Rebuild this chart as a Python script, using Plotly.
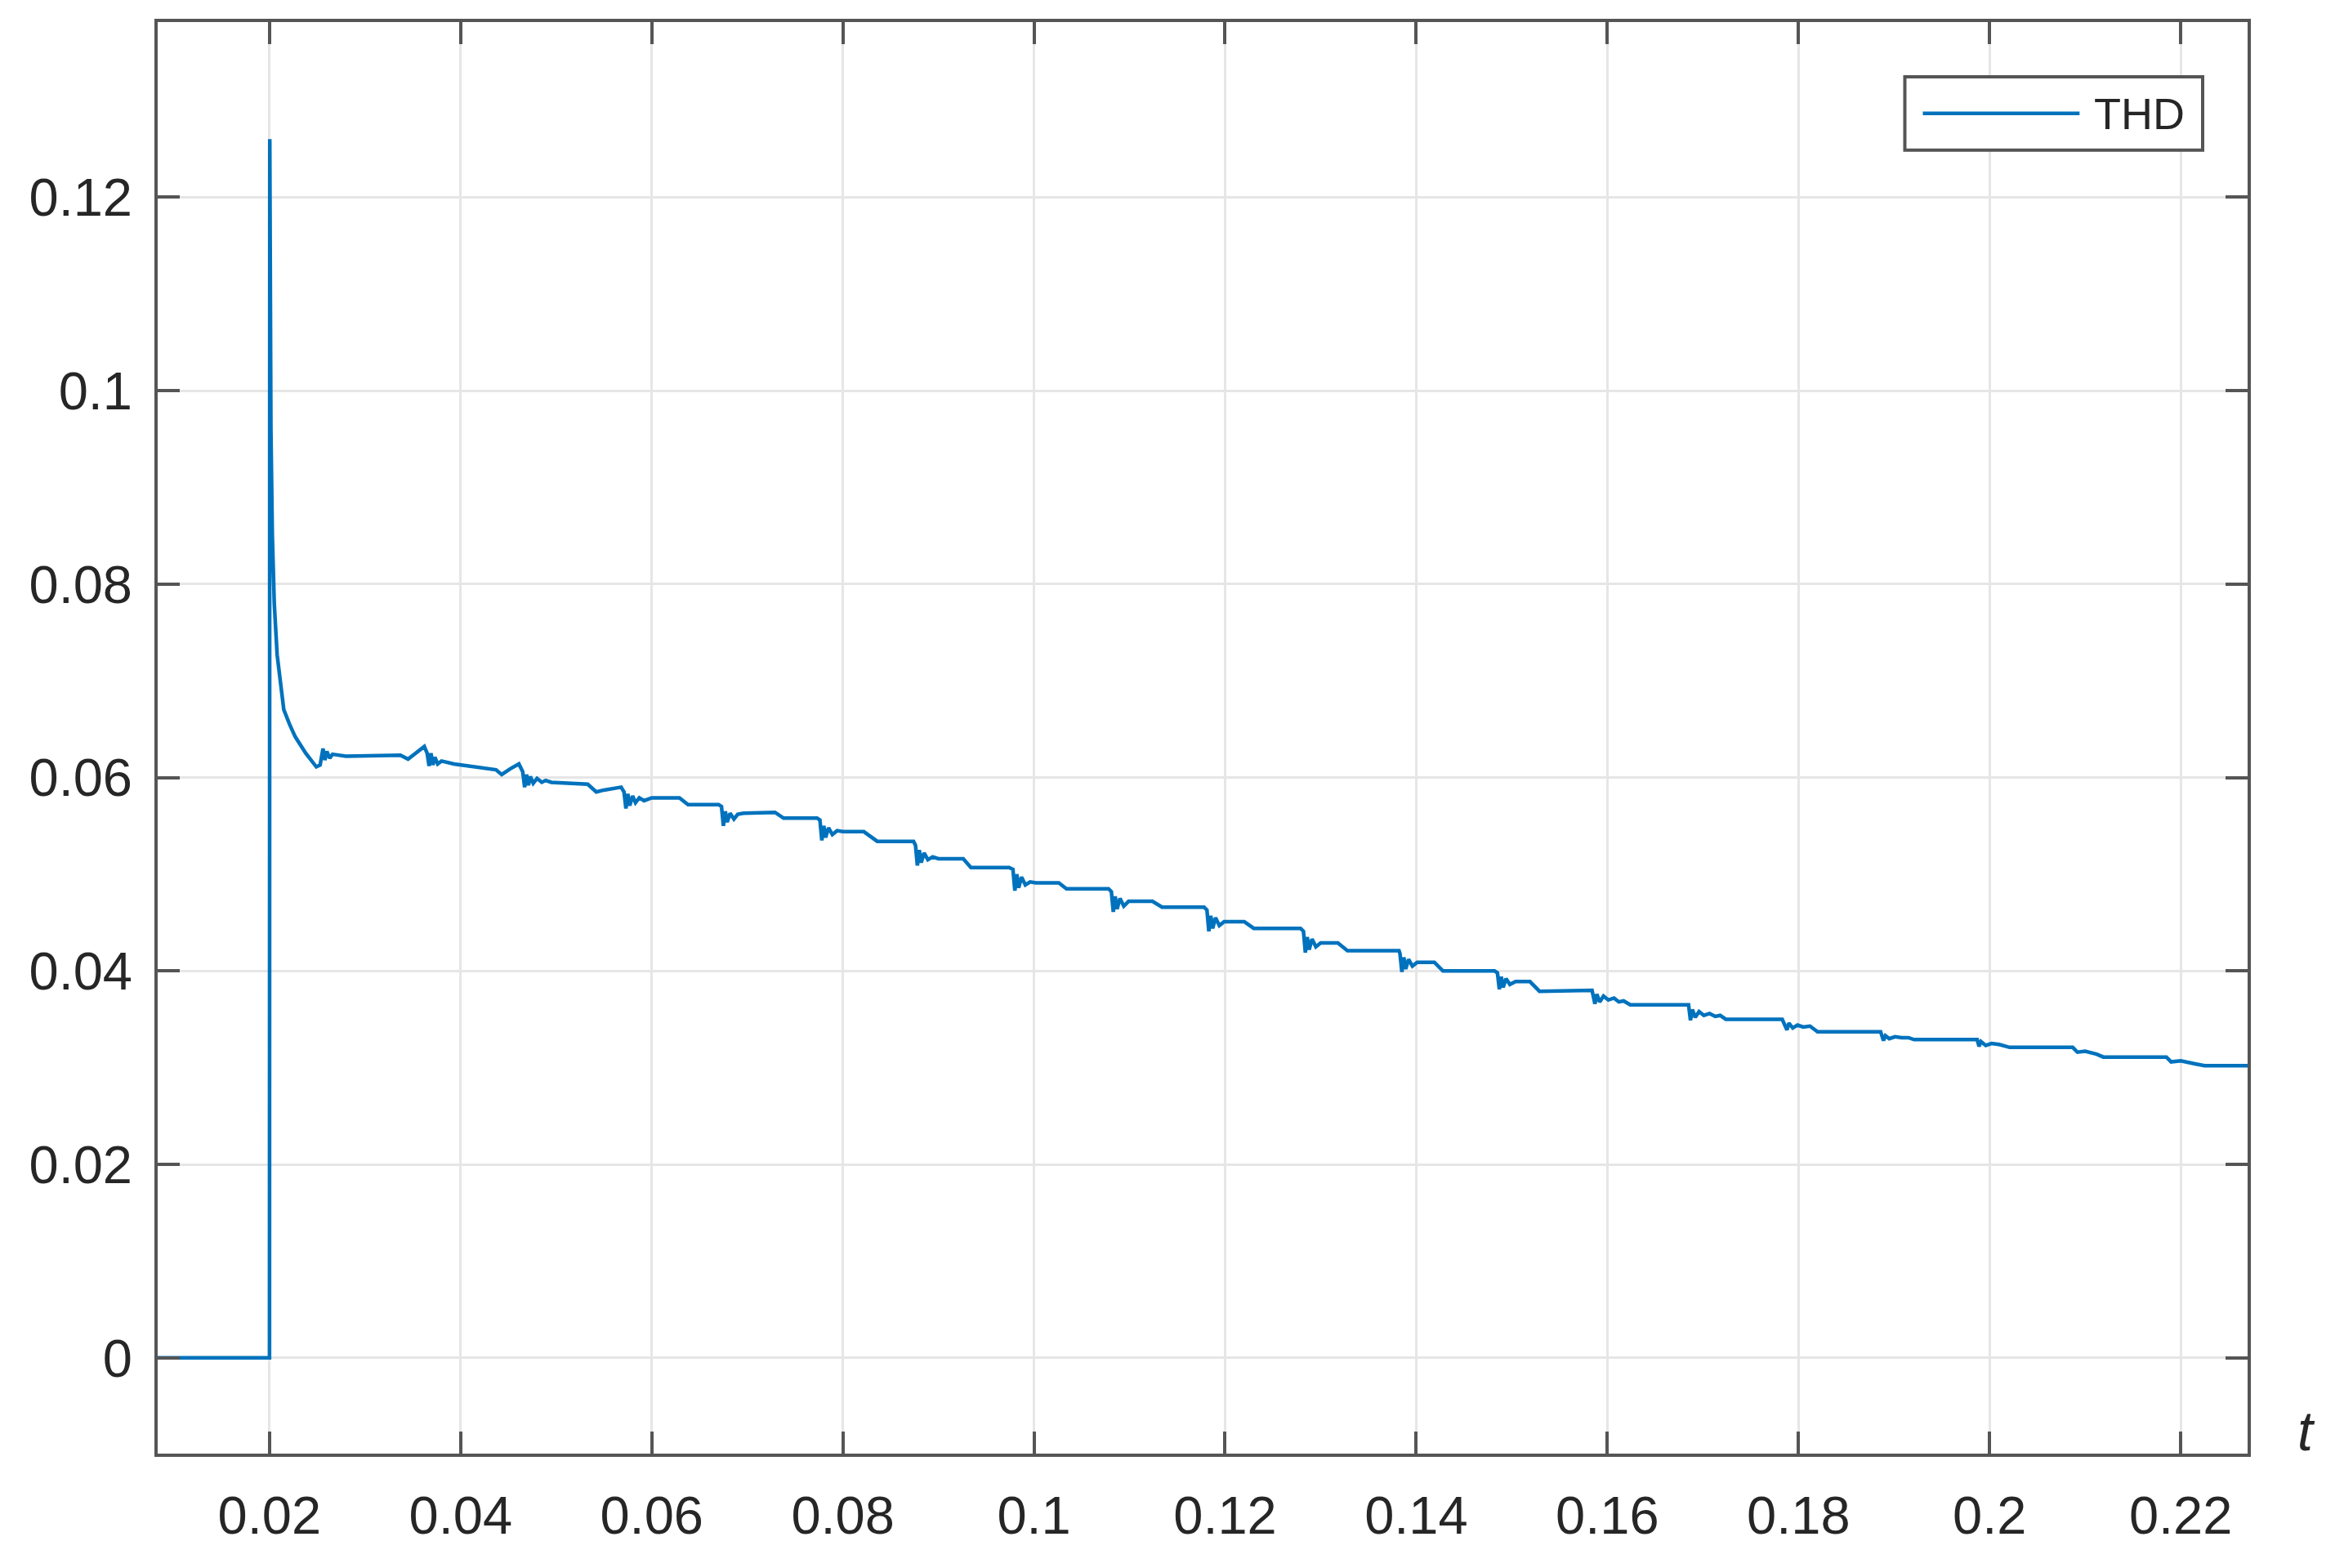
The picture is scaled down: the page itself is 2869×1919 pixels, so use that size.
import plotly.graph_objects as go

# THD vs time
t = [
    0.005, 0.0200, 0.02003, 0.02008, 0.02015, 0.0203, 0.0205, 0.0208, 0.0212, 0.0215,
    0.0221, 0.0227, 0.0238, 0.0249, 0.0253, 0.0256, 0.0258, 0.0260, 0.0263, 0.0266,
    0.0280, 0.0337, 0.0345, 0.0355, 0.0362, 0.0365, 0.0367, 0.0369, 0.0371, 0.0373,
    0.0376, 0.0380, 0.0393, 0.0437, 0.0443, 0.0452, 0.0461,
    0.0465, 0.0467, 0.0469, 0.0471, 0.0473, 0.0476, 0.0480, 0.0485, 0.0489, 0.0495,
    0.0533, 0.0542, 0.0550, 0.0568,
    0.0571, 0.0573, 0.0575, 0.0577, 0.0580, 0.0583, 0.0587, 0.0592, 0.0600,
    0.0629, 0.0638, 0.0670,
    0.0673, 0.0675, 0.0677, 0.0679, 0.0682, 0.0686, 0.0690, 0.0696,
    0.0729, 0.0738, 0.0773,
    0.0776, 0.0778, 0.0780, 0.0782, 0.0785, 0.0789, 0.0794, 0.0800,
    0.0822, 0.0836, 0.0874,
    0.0876, 0.0878, 0.0880, 0.0882, 0.0885, 0.0889, 0.0894, 0.0900,
    0.0926, 0.0934, 0.0974,
    0.0978, 0.0980, 0.0982, 0.0984, 0.0987, 0.0991, 0.0996, 0.1002,
    0.1026, 0.1034, 0.1078,
    0.1081, 0.1083, 0.1085, 0.1087, 0.1090, 0.1094, 0.1099,
    0.1124, 0.1134, 0.1178,
    0.1181, 0.1183, 0.1185, 0.1187, 0.1190, 0.1194, 0.1199,
    0.1220, 0.1230, 0.1279,
    0.1282, 0.1284, 0.1286, 0.1288, 0.1291, 0.1295, 0.1300,
    0.1318, 0.1328, 0.1382,
    0.1383, 0.1385, 0.1387, 0.1389, 0.1392, 0.1396, 0.1401,
    0.1419, 0.1428, 0.1482,
    0.1485, 0.1487, 0.1489, 0.1491, 0.1494, 0.1498, 0.1504,
    0.1519, 0.1529, 0.1584,
    0.1587, 0.1589, 0.1592, 0.1596, 0.1601, 0.1607, 0.1612, 0.1617,
    0.1624, 0.1685,
    0.1687, 0.1689, 0.1692, 0.1696, 0.1701, 0.1707, 0.1713, 0.1718,
    0.1724, 0.1783,
    0.1788, 0.1790, 0.1794, 0.1799, 0.1805, 0.1812,
    0.1820, 0.1886,
    0.1889, 0.1891, 0.1895, 0.1901, 0.1908, 0.1915,
    0.1921, 0.1987,
    0.1989, 0.1991, 0.1996, 0.2002, 0.2010,
    0.2021, 0.2087, 0.2092, 0.2100, 0.2112, 0.2119, 0.2185,
    0.2190, 0.2200, 0.2215, 0.2225, 0.2275,
]
thd = [
    0.0, 0.0, 0.126, 0.110, 0.096, 0.085, 0.078, 0.0727, 0.0690, 0.0670,
    0.0655, 0.0642, 0.0625, 0.0611, 0.0613, 0.0630, 0.0618, 0.0627, 0.0620, 0.0624,
    0.0622, 0.0623, 0.0619, 0.0626, 0.0632, 0.0625, 0.0612, 0.0625, 0.0613, 0.0621,
    0.0614, 0.0617, 0.0614, 0.0608, 0.0603, 0.0609, 0.0614,
    0.0606, 0.0590, 0.0603, 0.0592, 0.0601, 0.0594, 0.0599, 0.0595, 0.0597, 0.0595,
    0.0593, 0.0585, 0.0587, 0.0590,
    0.0585, 0.0568, 0.0583, 0.0571, 0.0581, 0.0574, 0.0579, 0.0576, 0.0579,
    0.0579, 0.0572, 0.0572,
    0.0570, 0.0550, 0.0565, 0.0554, 0.0563, 0.0557, 0.0562, 0.0563,
    0.0564, 0.0558, 0.0558,
    0.0556, 0.0535, 0.0550, 0.0538, 0.0548, 0.0541, 0.0545, 0.0544,
    0.0544, 0.0534, 0.0534,
    0.0530, 0.0509, 0.0525, 0.0512, 0.0522, 0.0515, 0.0518, 0.0516,
    0.0516, 0.0507, 0.0507,
    0.0505, 0.0483, 0.0500, 0.0486, 0.0497, 0.0489, 0.0492, 0.0491,
    0.0491, 0.0485, 0.0485,
    0.0482, 0.0461, 0.0477, 0.0464, 0.0475, 0.0467, 0.0472,
    0.0472, 0.0466, 0.0466,
    0.0463, 0.0441, 0.0457, 0.0444, 0.0455, 0.0447, 0.0451,
    0.0451, 0.0444, 0.0444,
    0.0441, 0.0419, 0.0435, 0.0422, 0.0433, 0.0425, 0.0429,
    0.0429, 0.0421, 0.0421,
    0.0418, 0.0399, 0.0414, 0.0402, 0.0412, 0.0405, 0.0409,
    0.0409, 0.0400, 0.0400,
    0.0398, 0.0381, 0.0394, 0.0383, 0.0392, 0.0386, 0.0389,
    0.0389, 0.0379, 0.0380,
    0.0366, 0.0376, 0.0368, 0.0374, 0.0370, 0.0372, 0.0368, 0.0369,
    0.0365, 0.0365,
    0.0349, 0.0360, 0.0352, 0.0358, 0.0354, 0.0356, 0.0353, 0.0354,
    0.0350, 0.0350,
    0.0339, 0.0346, 0.0341, 0.0344, 0.0342, 0.0343,
    0.0337, 0.0337,
    0.0328, 0.0333, 0.0330, 0.0332, 0.0331, 0.0331,
    0.0329, 0.0329,
    0.0322, 0.0327, 0.0323, 0.0325, 0.0324,
    0.0321, 0.0321, 0.0316, 0.0317, 0.0314, 0.0311, 0.0311,
    0.0306, 0.0307, 0.0304, 0.0302, 0.0302,
]

x_ticks = [0.02, 0.04, 0.06, 0.08, 0.1, 0.12, 0.14, 0.16, 0.18, 0.2, 0.22]
x_labels = ["0.02", "0.04", "0.06", "0.08", "0.1", "0.12", "0.14", "0.16", "0.18", "0.2", "0.22"]
y_ticks = [0, 0.02, 0.04, 0.06, 0.08, 0.1, 0.12]
y_labels = ["0", "0.02", "0.04", "0.06", "0.08", "0.1", "0.12"]

line_color = "#0072BD"
axis_color = "#555555"
font_family = "Liberation Sans, Arial, Helvetica, sans-serif"

fig = go.Figure()

fig.add_trace(go.Scatter(
    x=t,
    y=thd,
    mode="lines",
    name="THD",
    line=dict(color=line_color, width=4.5),
    showlegend=False,
))

axis_common = dict(
    showline=True,
    linecolor=axis_color,
    linewidth=4,
    mirror="ticks",
    ticks="inside",
    ticklen=27,
    tickwidth=4,
    tickcolor=axis_color,
    showgrid=True,
    gridcolor="#e6e6e6",
    gridwidth=3,
    zeroline=False,
    tickfont=dict(family=font_family, size=65, color="#262626"),
)

fig.update_xaxes(
    range=[0.0083, 0.2270],
    tickmode="array",
    tickvals=x_ticks,
    ticktext=x_labels,
    ticklabelstandoff=16,
    **axis_common,
)
fig.update_yaxes(
    range=[-0.0099, 0.1381],
    tickmode="array",
    tickvals=y_ticks,
    ticktext=y_labels,
    ticklabelstandoff=14,
    **axis_common,
)

# legend box drawn by hand so the line sample is as long as in the reference
fig.add_shape(type="rect", xref="paper", yref="paper",
              x0=0.8360, x1=0.9785, y0=0.9106, y1=0.9618,
              line=dict(color=axis_color, width=4), fillcolor="white", layer="above")
fig.add_shape(type="line", xref="paper", yref="paper",
              x0=0.8446, x1=0.9196, y0=0.9362, y1=0.9362,
              line=dict(color=line_color, width=4.5), layer="above")
fig.add_annotation(x=0.9705, y=0.9362, xref="paper", yref="paper",
                   text="THD", showarrow=False, xanchor="right", yanchor="middle",
                   font=dict(family=font_family, size=54, color="#262626"))

# axis label "t" at the right end of the x axis
fig.add_annotation(x=1.023, y=0.016, xref="paper", yref="paper",
                   text="<i>t</i>", showarrow=False, xanchor="left", yanchor="middle",
                   font=dict(family=font_family, size=68, color="#262626"))

fig.update_layout(
    width=2869,
    height=1919,
    margin=dict(l=185, r=126, t=19, b=148),
    paper_bgcolor="white",
    plot_bgcolor="white",
    showlegend=False,
)

fig.write_html("out.html")
